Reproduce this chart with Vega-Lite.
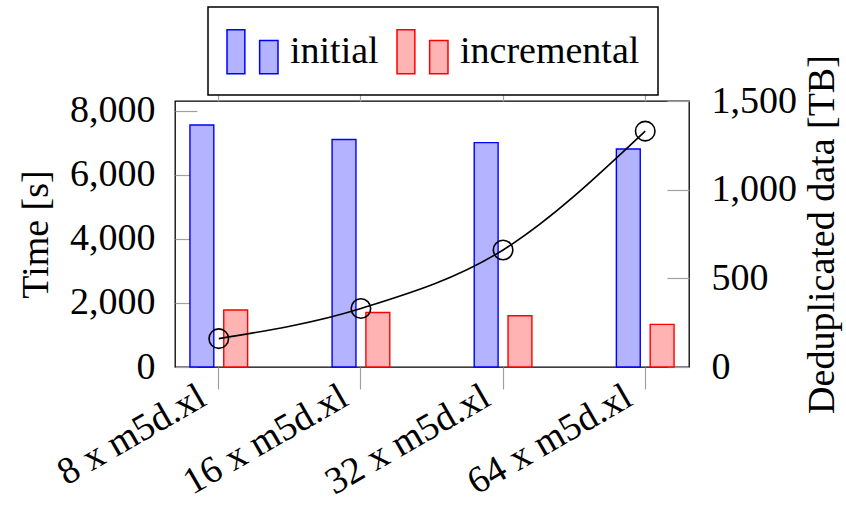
{
  "$schema": "https://vega.github.io/schema/vega-lite/v6.json",
  "width": 514,
  "height": 266,
  "autosize": {"type": "none"},
  "padding": {"left": 175, "top": 101, "right": 157, "bottom": 138},
  "background": "white",
  "config": {
    "font": "Liberation Serif",
    "view": {"stroke": "black", "strokeWidth": 1.3},
    "axis": {
      "labelFont": "Liberation Serif",
      "titleFont": "Liberation Serif",
      "labelFontSize": 38,
      "titleFontSize": 38,
      "labelColor": "black",
      "titleColor": "black",
      "titleFontWeight": "normal",
      "tickColor": "#a0a0a0",
      "tickWidth": 1.2,
      "grid": false,
      "domain": false,
      "labelLimit": 400,
      "labelOverlap": false
    },
    "legend": {
      "orient": "none",
      "legendX": 33,
      "legendY": -94,
      "direction": "horizontal",
      "strokeColor": "black",
      "strokeWidth": 1.5,
      "fillColor": "white",
      "padding": 18,
      "labelFont": "Liberation Serif",
      "labelFontSize": 38,
      "labelColor": "black",
      "labelOffset": 11,
      "labelLimit": 400,
      "columnPadding": 15,
      "symbolType": "M-1,-0.86H-0.3V0.86H-1Z M0.28,-0.44H1V0.86H0.28Z",
      "symbolSize": 2601,
      "symbolStrokeWidth": 1.5,
      "symbolOpacity": 1
    }
  },
  "datasets": {
    "times": [
      {"config": "8 x m5d.xl", "series": "initial", "time": 7550},
      {"config": "8 x m5d.xl", "series": "incremental", "time": 1780},
      {"config": "16 x m5d.xl", "series": "initial", "time": 7100},
      {"config": "16 x m5d.xl", "series": "incremental", "time": 1700},
      {"config": "32 x m5d.xl", "series": "initial", "time": 7000},
      {"config": "32 x m5d.xl", "series": "incremental", "time": 1600},
      {"config": "64 x m5d.xl", "series": "initial", "time": 6800},
      {"config": "64 x m5d.xl", "series": "incremental", "time": 1330}
    ],
    "dedup": [
      {"config": "8 x m5d.xl", "dedup": 160},
      {"config": "16 x m5d.xl", "dedup": 330},
      {"config": "32 x m5d.xl", "dedup": 660},
      {"config": "64 x m5d.xl", "dedup": 1330}
    ]
  },
  "resolve": {"scale": {"y": "independent"}, "axis": {"x": "independent", "y": "independent"}},
  "layer": [
    {
      "data": {"name": "times"},
      "mark": {"type": "bar", "strokeWidth": 1.4, "opacity": 1},
      "encoding": {
        "x": {
          "field": "config",
          "type": "nominal",
          "sort": ["8 x m5d.xl", "16 x m5d.xl", "32 x m5d.xl", "64 x m5d.xl"],
          "scale": {"type": "band", "paddingInner": 0.594, "paddingOuter": 0.105},
          "axis": {"orient": "bottom", "title": null, "labelAngle": -30, "labelAlign": "right", "labelBaseline": "middle", "tickSize": 22, "labelPadding": 5, "labelOffset": -16}
        },
        "xOffset": {
          "field": "series",
          "type": "nominal",
          "sort": ["initial", "incremental"],
          "scale": {"paddingInner": 0.294, "paddingOuter": 0}
        },
        "y": {
          "field": "time",
          "type": "quantitative",
          "scale": {"domain": [0, 8300], "nice": false},
          "axis": {"orient": "left", "title": "Time [s]", "values": [0, 2000, 4000, 6000, 8000], "format": ",d", "tickSize": -22, "labelPadding": 42, "titlePadding": 14}
        },
        "fill": {
          "field": "series",
          "type": "nominal",
          "sort": ["initial", "incremental"],
          "scale": {"domain": ["initial", "incremental"], "range": ["#b3b3ff", "#ffb3b3"]},
          "legend": {"title": null}
        },
        "stroke": {
          "field": "series",
          "type": "nominal",
          "sort": ["initial", "incremental"],
          "scale": {"domain": ["initial", "incremental"], "range": ["#0000ff", "#ff0000"]},
          "legend": {"title": null}
        }
      }
    },
    {
      "data": {"name": "dedup"},
      "mark": {
        "type": "line",
        "color": "black",
        "strokeWidth": 1.6,
        "interpolate": "monotone",
        "point": {"shape": "circle", "filled": false, "stroke": "black", "fill": "transparent", "strokeWidth": 1.6, "size": 380, "opacity": 1}
      },
      "encoding": {
        "x": {
          "field": "config",
          "type": "nominal",
          "sort": ["8 x m5d.xl", "16 x m5d.xl", "32 x m5d.xl", "64 x m5d.xl"],
          "axis": {"orient": "top", "title": null, "labels": false, "tickSize": 9}
        },
        "y": {
          "field": "dedup",
          "type": "quantitative",
          "scale": {"domain": [0, 1500], "nice": false},
          "axis": {"orient": "right", "title": "Deduplicated data [TB]", "values": [0, 500, 1000, 1500], "format": ",d", "tickSize": -22, "labelPadding": 44, "titlePadding": 45, "titleAngle": -90}
        }
      }
    }
  ]
}
